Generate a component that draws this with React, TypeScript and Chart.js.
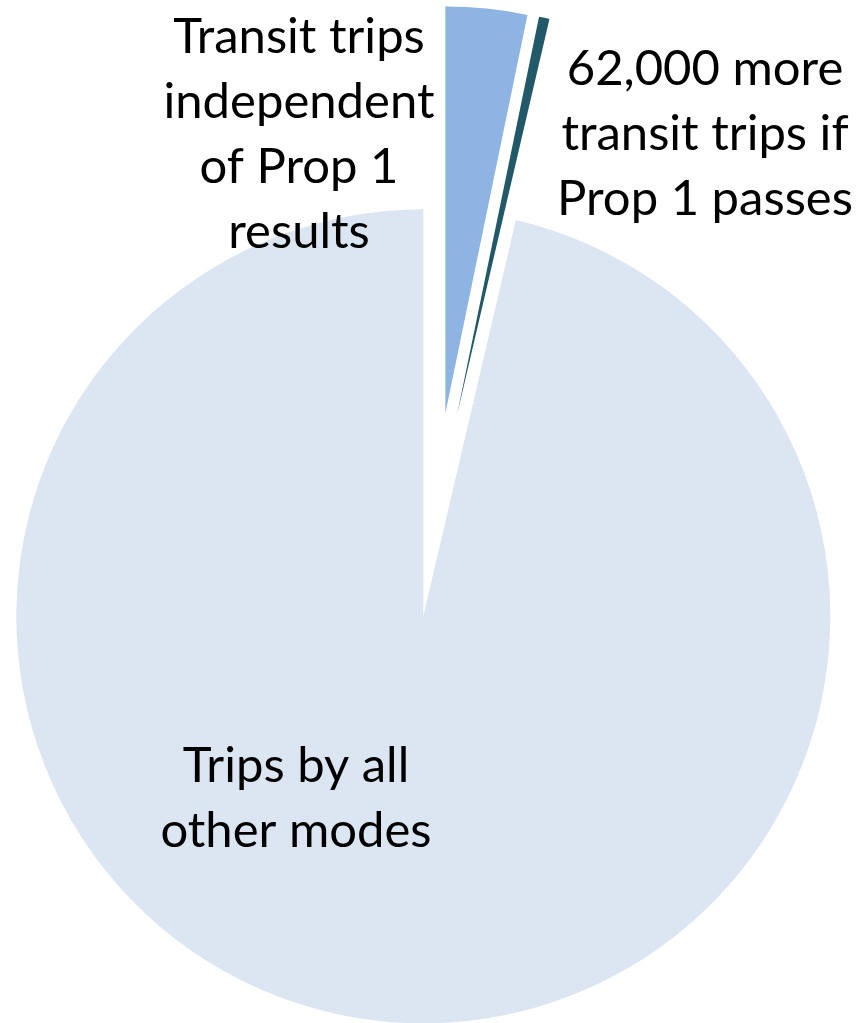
import React, { useEffect, useRef } from "react";
import { Chart, registerables } from "chart.js";

Chart.register(...registerables);

// ---- data ----
const categories = [
  "Transit trips independent of Prop 1 results",
  "62,000 more transit trips if Prop 1 passes",
  "Trips by all other modes",
];
const labelLines = [
  ["Transit trips", "independent", "of Prop 1", "results"],
  ["62,000 more", "transit trips if", "Prop 1 passes"],
  ["Trips by all", "other modes"],
];
const tripValues = [480000, 62000, 14300000];
const sliceColors = ["#8DB4E2", "#215968", "#DCE6F2"];

// ---- layout ----
const W = 858;
const H = 1023;
const CENTER_X = 435;
const CENTER_Y = 515;
const RADIUS = 407;
const EXPLODE = 102;
const FONT = "49px Lato, 'Open Sans', sans-serif";
const LINE_H = 65;
const labelAnchors = [
  { x: 299, y: 53 },
  { x: 705, y: 85 },
  { x: 296, y: 782 },
];

const explodePlugin = {
  id: "explodeSlices",
  afterDatasetsUpdate(chart: any) {
    const meta = chart.getDatasetMeta(0);
    meta.data.forEach((arc: any) => {
      const mid = (arc.startAngle + arc.endAngle) / 2;
      arc.x += Math.cos(mid) * EXPLODE;
      arc.y += Math.sin(mid) * EXPLODE;
    });
  },
};

const labelPlugin = {
  id: "sliceLabels",
  afterDraw(chart: any) {
    const ctx = chart.ctx;
    ctx.save();
    ctx.font = FONT;
    ctx.fillStyle = "#000000";
    ctx.textAlign = "center";
    ctx.textBaseline = "alphabetic";
    labelLines.forEach((lines, i) => {
      const a = labelAnchors[i];
      lines.forEach((line, j) => {
        ctx.fillText(line, a.x, a.y + j * LINE_H);
      });
    });
    ctx.restore();
  },
};

export default function App() {
  const ref = useRef<HTMLCanvasElement | null>(null);

  useEffect(() => {
    if (!ref.current) return;
    const pad = {
      left: Math.max(0, 2 * CENTER_X - W),
      right: Math.max(0, W - 2 * CENTER_X),
      top: Math.max(0, 2 * CENTER_Y - H),
      bottom: Math.max(0, H - 2 * CENTER_Y),
    };
    const chart = new Chart(ref.current, {
      type: "pie",
      data: {
        labels: categories,
        datasets: [
          {
            data: tripValues,
            backgroundColor: sliceColors,
            borderWidth: 0,
          },
        ],
      },
      options: {
        responsive: false,
        animation: false,
        events: [],
        radius: RADIUS,
        layout: { padding: pad },
        plugins: {
          legend: { display: false },
          tooltip: { enabled: false },
          title: { display: false },
        },
      } as any,
      plugins: [explodePlugin, labelPlugin],
    });
    return () => chart.destroy();
  }, []);

  return (
    <div
      style={{
        position: "absolute",
        left: 0,
        top: 0,
        width: W,
        height: H,
        overflow: "hidden",
        background: "#ffffff",
      }}
    >
      <canvas ref={ref} width={W} height={H} style={{ width: W, height: H, display: "block" }} />
    </div>
  );
}
